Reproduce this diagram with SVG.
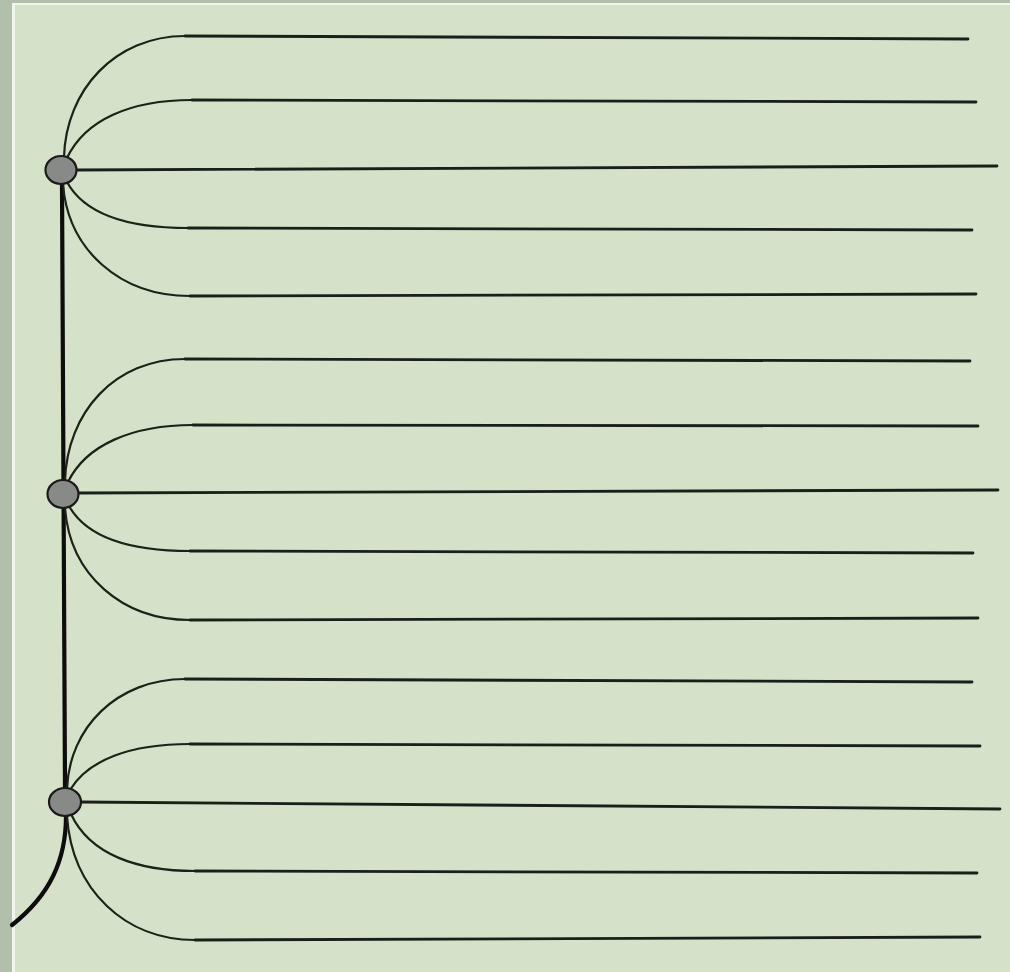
<svg xmlns="http://www.w3.org/2000/svg" width="1010" height="972" viewBox="0 0 1010 972">
<style>
.c{fill:none;stroke:#1b2217;stroke-width:2.2;stroke-linecap:round}
.s{fill:none;stroke:#1b1f1a;stroke-width:2.8;stroke-linecap:round}
.t{fill:none;stroke:#0d0d0d;stroke-width:4.2;stroke-linecap:round}
.n{fill:#888a88;stroke:#1a1a1a;stroke-width:2.2}
</style>
<rect x="0" y="0" width="1010" height="972" fill="#b1bfab"/>
<rect x="12" y="3" width="998" height="969" fill="#f2f5ee"/>
<rect x="15" y="5" width="995" height="967" fill="#d6e1c9"/>
<g id="connectors">
<path class="t" d="M62,184 L65,788"/>
<path class="t" d="M66,816 C66,860 50,895 12,925"/>
<path class="c" d="M64,157 C66,90 115,36 185,36"/>
<path class="s" d="M185,36 L968,39"/>
<path class="c" d="M67,158 C85,120 130,100 192,100"/>
<path class="s" d="M192,100 L976,102"/>
<path class="s" d="M77,170 L997,166"/>
<path class="c" d="M67,182 C85,215 130,228 188,228"/>
<path class="s" d="M188,228 L972,230"/>
<path class="c" d="M63,184 C68,250 120,296 190,296"/>
<path class="s" d="M190,296 L976,294"/>
<path class="c" d="M65,481 C67,412 115,359 185,359"/>
<path class="s" d="M185,359 L970,361"/>
<path class="c" d="M68,482 C86,445 132,425 193,425"/>
<path class="s" d="M193,425 L978,426"/>
<path class="s" d="M79,493 L998,490"/>
<path class="c" d="M69,506 C87,538 132,551 190,551"/>
<path class="s" d="M190,551 L973,553"/>
<path class="c" d="M65,508 C70,575 122,620 190,620"/>
<path class="s" d="M190,620 L978,618"/>
<path class="c" d="M67,789 C69,728 117,679 185,679"/>
<path class="s" d="M185,679 L972,682"/>
<path class="c" d="M70,790 C88,760 130,744 190,744"/>
<path class="s" d="M190,744 L980,746"/>
<path class="s" d="M81,802 L1000,809"/>
<path class="c" d="M71,814 C90,855 138,871 195,871"/>
<path class="s" d="M195,871 L977,873"/>
<path class="c" d="M67,816 C72,890 125,940 195,940"/>
<path class="s" d="M195,940 L980,937"/>
</g>
<g id="node1"><ellipse class="n" cx="61" cy="170" rx="15.5" ry="14"/></g>
<g id="node2"><ellipse class="n" cx="63" cy="494" rx="15.5" ry="14"/></g>
<g id="node3"><ellipse class="n" cx="65" cy="802" rx="16" ry="14"/></g>
</svg>
